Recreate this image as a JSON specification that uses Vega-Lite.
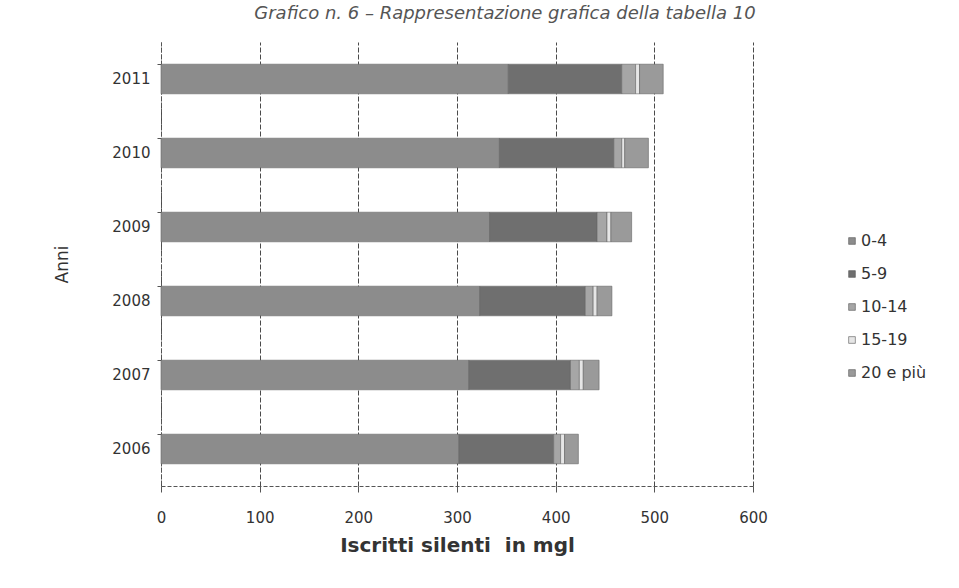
{
  "$schema": "https://vega.github.io/schema/vega-lite/v6.json",
  "autosize": {"type": "none"},
  "width": 592,
  "height": 444,
  "padding": {"left": 161, "top": 42, "right": 206, "bottom": 102},
  "background": "white",
  "title": {
    "text": "Grafico n. 6 – Rappresentazione grafica della tabella 10",
    "font": "DejaVu Sans",
    "fontSize": 18,
    "fontStyle": "italic",
    "fontWeight": "normal",
    "color": "#555555",
    "anchor": "middle",
    "dx": 48,
    "offset": 19
  },
  "config": {
    "view": {"stroke": null},
    "font": "DejaVu Sans"
  },
  "data": {
    "values": [
      {"anno": "2006", "fascia": "0-4", "ord": 1, "iscritti": 302},
      {"anno": "2006", "fascia": "5-9", "ord": 2, "iscritti": 96},
      {"anno": "2006", "fascia": "10-14", "ord": 3, "iscritti": 7},
      {"anno": "2006", "fascia": "15-19", "ord": 4, "iscritti": 4},
      {"anno": "2006", "fascia": "20 e più", "ord": 5, "iscritti": 14},
      {"anno": "2007", "fascia": "0-4", "ord": 1, "iscritti": 312},
      {"anno": "2007", "fascia": "5-9", "ord": 2, "iscritti": 103},
      {"anno": "2007", "fascia": "10-14", "ord": 3, "iscritti": 9},
      {"anno": "2007", "fascia": "15-19", "ord": 4, "iscritti": 4},
      {"anno": "2007", "fascia": "20 e più", "ord": 5, "iscritti": 16},
      {"anno": "2008", "fascia": "0-4", "ord": 1, "iscritti": 323},
      {"anno": "2008", "fascia": "5-9", "ord": 2, "iscritti": 107},
      {"anno": "2008", "fascia": "10-14", "ord": 3, "iscritti": 8},
      {"anno": "2008", "fascia": "15-19", "ord": 4, "iscritti": 4},
      {"anno": "2008", "fascia": "20 e più", "ord": 5, "iscritti": 15},
      {"anno": "2009", "fascia": "0-4", "ord": 1, "iscritti": 333},
      {"anno": "2009", "fascia": "5-9", "ord": 2, "iscritti": 109},
      {"anno": "2009", "fascia": "10-14", "ord": 3, "iscritti": 10},
      {"anno": "2009", "fascia": "15-19", "ord": 4, "iscritti": 4},
      {"anno": "2009", "fascia": "20 e più", "ord": 5, "iscritti": 21},
      {"anno": "2010", "fascia": "0-4", "ord": 1, "iscritti": 343},
      {"anno": "2010", "fascia": "5-9", "ord": 2, "iscritti": 116},
      {"anno": "2010", "fascia": "10-14", "ord": 3, "iscritti": 8},
      {"anno": "2010", "fascia": "15-19", "ord": 4, "iscritti": 3},
      {"anno": "2010", "fascia": "20 e più", "ord": 5, "iscritti": 24},
      {"anno": "2011", "fascia": "0-4", "ord": 1, "iscritti": 352},
      {"anno": "2011", "fascia": "5-9", "ord": 2, "iscritti": 115},
      {"anno": "2011", "fascia": "10-14", "ord": 3, "iscritti": 14},
      {"anno": "2011", "fascia": "15-19", "ord": 4, "iscritti": 4},
      {"anno": "2011", "fascia": "20 e più", "ord": 5, "iscritti": 24}
    ]
  },
  "mark": {"type": "bar", "stroke": "#666666", "strokeWidth": 0.6},
  "encoding": {
    "y": {
      "field": "anno",
      "type": "ordinal",
      "sort": "descending",
      "scale": {"paddingInner": 0.6, "paddingOuter": 0.3},
      "axis": {
        "title": "Anni",
        "titleFont": "DejaVu Sans",
        "titleFontSize": 17,
        "titleFontWeight": "normal",
        "titleColor": "#333333",
        "titlePadding": 40,
        "labelFont": "DejaVu Sans",
        "labelFontSize": 15,
        "labelColor": "#333333",
        "labelPadding": 7,
        "bandPosition": 0,
        "tickSize": 4,
        "tickColor": "#555555",
        "domainColor": "#555555",
        "domainDash": [4, 2],
        "grid": false
      }
    },
    "x": {
      "field": "iscritti",
      "type": "quantitative",
      "stack": "zero",
      "scale": {"domain": [0, 600], "nice": false},
      "axis": {
        "title": "Iscritti silenti\u00a0\u00a0in mgl",
        "titleFont": "DejaVu Sans",
        "titleFontSize": 20,
        "titleFontWeight": "bold",
        "titleColor": "#333333",
        "titlePadding": 10,
        "values": [0, 100, 200, 300, 400, 500, 600],
        "labelFont": "DejaVu Sans",
        "labelFontSize": 15,
        "labelColor": "#333333",
        "labelPadding": 18,
        "labelFlush": false,
        "tickSize": 6,
        "tickColor": "#555555",
        "domainColor": "#555555",
        "domainDash": [4, 2],
        "grid": true,
        "gridColor": "#4a4a4a",
        "gridDash": [5, 2],
        "gridWidth": 1
      }
    },
    "color": {
      "field": "fascia",
      "type": "nominal",
      "sort": ["0-4", "5-9", "10-14", "15-19", "20 e più"],
      "scale": {
        "domain": ["0-4", "5-9", "10-14", "15-19", "20 e più"],
        "range": ["#8c8c8c", "#6f6f6f", "#a6a6a6", "#e6e6e6", "#9a9a9a"]
      },
      "legend": {
        "title": null,
        "orient": "none",
        "legendX": 683,
        "legendY": 191,
        "symbolType": "square",
        "symbolSize": 45,
        "symbolStrokeColor": "#555555",
        "symbolStrokeWidth": 0.6,
        "labelFont": "DejaVu Sans",
        "labelFontSize": 16,
        "labelColor": "#333333",
        "labelOffset": 1,
        "rowPadding": 17
      }
    },
    "order": {"field": "ord", "type": "quantitative"}
  }
}
